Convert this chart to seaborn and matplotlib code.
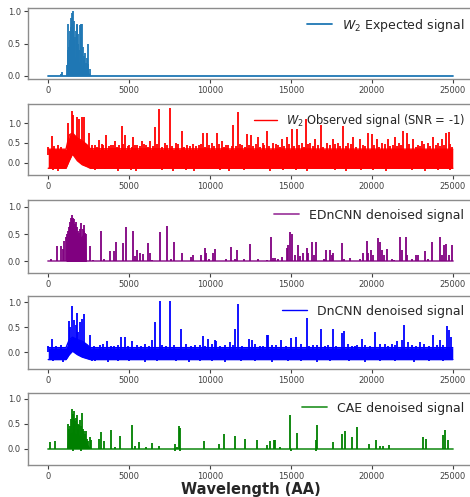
import numpy as np
import pandas as pd
import matplotlib
matplotlib.use("Agg")
import matplotlib.pyplot as plt
import seaborn as sns

# ---------------- data ----------------
X_END = 25000

# Panel 1: W2 expected signal
exp_body_x = [1100, 1200, 1300, 1450, 1600, 1800, 2000, 2200, 2400, 2550, 2650]
exp_body_y = [0.0, 0.22, 0.34, 0.33, 0.30, 0.24, 0.18, 0.13, 0.08, 0.03, 0.0]
exp_spk_x = [800, 865, 1175, 1210, 1236, 1280, 1320, 1350, 1385, 1415, 1445, 1475, 1508,
             1540, 1570, 1610, 1650, 1700, 1755, 1800, 1835, 1870, 1900, 1960, 2000,
             2050, 2100, 2140, 2185, 2230, 2270, 2330, 2380, 2430, 2480, 2560]
exp_spk_y = [0.03, 0.06, 0.17, 0.40, 0.80, 0.45, 0.55, 0.70, 0.90, 0.75, 0.98, 0.80, 1.00,
             0.70, 0.85, 0.55, 0.60, 0.70, 0.80, 0.78, 0.65, 0.50, 0.40, 0.78, 0.60,
             0.80, 0.80, 0.45, 0.30, 0.25, 0.35, 0.20, 0.28, 0.18, 0.50, 0.10]

# Panel 2: W2 observed signal (SNR = -1)
obs_band_x = [0, 1100, 1300, 1500, 1800, 2100, 2400, 2600, 25000]
obs_band_lo = [-0.14, -0.14, 0.05, 0.22, 0.05, -0.05, -0.10, -0.14, -0.14]
obs_band_hi = [0.34, 0.34, 0.70, 0.75, 0.62, 0.55, 0.45, 0.35, 0.34]
obs_spk_x = [0, 210, 620, 1250, 1450, 1550, 1750, 1900, 2100, 2200, 2535, 2900, 3160,
             3400, 3600, 3850, 4120, 4350, 4535, 4740, 5000, 5260, 5500, 5770, 6050,
             6280, 6595, 6860, 7200, 7520, 7900, 8240, 8600, 8960, 9300, 9580, 9830,
             10100, 10400, 10710, 11000, 11430, 11700, 12000, 12260, 12500, 12970,
             13250, 13490, 13900, 14200, 14420, 14770, 15040, 15350, 15700, 15960,
             16200, 16480, 16830, 17200, 17620, 17900, 18230, 18550, 18850, 19260,
             19780, 19990, 20300, 20650, 21020, 21440, 21700, 21950, 22160, 22570,
             22850, 23080, 23450, 23800, 24100, 24320, 24590, 24740, 24950]
obs_spk_y = [0.40, 0.67, 0.45, 1.00, 1.30, 1.20, 1.15, 1.10, 1.15, 1.15, 0.75, 0.45, 0.58,
             0.45, 0.70, 0.45, 0.55, 0.45, 0.92, 0.70, 0.45, 0.65, 0.45, 0.55, 0.45,
             0.55, 0.90, 1.35, 0.50, 1.37, 0.50, 0.80, 0.45, 0.48, 0.45, 0.75, 0.75,
             0.50, 0.75, 0.55, 0.45, 0.95, 1.28, 0.45, 0.72, 0.70, 0.65,
             0.50, 0.80, 0.50, 0.45, 0.60, 0.65, 0.85, 0.85, 0.50, 1.10,
             0.50, 0.60, 0.95, 0.50, 0.60, 0.50, 0.92, 0.50, 0.65, 0.60,
             0.75, 0.72, 0.60, 0.50, 0.60, 0.65, 0.50, 0.80, 0.75, 0.60,
             0.45, 0.55, 0.50, 0.65, 0.50, 0.60, 0.75, 0.78, 0.40]
obs_minor_x = [350, 800, 2700, 3000, 3300, 3750, 4000, 4250, 4650, 4900, 5150, 5380, 5650,
               5900, 6150, 6450, 6750, 7050, 7350, 7650, 8050, 8400, 8750, 9150, 9450,
               9700, 9950, 10250, 10550, 10850, 11100, 11350, 11600, 11850, 12150, 12380,
               12650, 12850, 13100, 13350, 13650, 14050, 14300, 14600, 14900, 15200,
               15500, 15800, 16050, 16350, 16650, 17000, 17400, 17750, 18050, 18400,
               18700, 19050, 19450, 19600, 20150, 20450, 20800, 21150, 21300, 21550,
               21800, 22300, 22700, 22950, 23250, 23600, 23950, 24200, 24450, 24850]
obs_minor_y = [0.42, 0.40, 0.44, 0.40, 0.46, 0.41, 0.44, 0.39, 0.47, 0.42, 0.40, 0.45, 0.41,
               0.48, 0.40, 0.43, 0.46, 0.40, 0.44, 0.42, 0.47, 0.40, 0.43, 0.41, 0.46,
               0.40, 0.44, 0.42, 0.48, 0.40, 0.45, 0.41, 0.43, 0.47, 0.40, 0.44,
               0.42, 0.46, 0.40, 0.45, 0.41, 0.48, 0.40, 0.43, 0.46, 0.41,
               0.44, 0.40, 0.47, 0.42, 0.45, 0.40, 0.44, 0.46, 0.41, 0.43,
               0.48, 0.40, 0.45, 0.42, 0.44, 0.40, 0.47, 0.42, 0.45, 0.41,
               0.44, 0.46, 0.40, 0.43, 0.47, 0.41, 0.45, 0.42, 0.44, 0.46]
obs_dip_x = [300, 600, 2900, 3500, 4300, 5100, 5400, 6300, 7000, 7700, 8500, 9000, 9900,
             10600, 11200, 12100, 12900, 13700, 14500, 15300, 16000, 16900, 17700, 18400,
             19300, 20100, 20900, 21700, 22500, 23300, 24100, 24800]
obs_dip_y = [-0.18, -0.20, -0.19, -0.17, -0.20, -0.18, -0.20, -0.17, -0.19, -0.20, -0.18,
             -0.20, -0.17, -0.19, -0.20, -0.18, -0.17, -0.20, -0.19, -0.18, -0.20, -0.17,
             -0.19, -0.20, -0.18, -0.19, -0.20, -0.17, -0.19, -0.20, -0.18, -0.19]

# Panel 3: EDnCNN denoised signal
edn_body_x = [1100, 1150, 1300, 1450, 1600, 1800, 2000, 2150, 2300, 2360]
edn_body_y = [0.0, 0.30, 0.52, 0.62, 0.58, 0.48, 0.45, 0.50, 0.48, 0.0]
edn_spk_x = [148, 538, 806, 890, 970, 1120, 1150, 1200, 1260, 1320, 1370, 1420, 1480,
             1530, 1600, 1660, 1730, 1790, 1850, 1910, 1970, 2050, 2120, 2180, 2230,
             2290, 2330, 2555, 2760, 3235, 3440, 3810, 4040, 4160, 4620, 4780,
             5230, 5350, 5500, 5700, 5830, 6160, 6260, 6420, 6920, 7350, 7600, 7770,
             8290, 8840, 8940, 9420, 9660, 9770, 9930, 10180, 10280, 11000, 11270,
             11520, 11680, 12100, 12465, 12980, 13500, 13760, 13890, 14020, 14230,
             14420, 14730, 14830, 14960, 15040, 15220, 15450, 15550, 15760, 15970,
             16070, 16280, 16420, 16540, 17030, 17160, 17410, 17510, 17600, 18130,
             18290, 18640, 19260, 19470, 19680, 19780, 19950, 20100, 20400, 20500,
             20640, 20770, 20910, 21220, 21380, 21730, 21840, 22090, 22190, 22460,
             22700, 22830, 23280, 23440, 23690, 24210, 24350, 24480, 24610, 24760, 24930]
edn_spk_y = [0.05, 0.29, 0.28, 0.23, 0.37, 0.45, 0.50, 0.55, 0.62, 0.65, 0.72, 0.80, 0.85,
             0.80, 0.78, 0.68, 0.72, 0.62, 0.55, 0.52, 0.60, 0.70, 0.60, 0.66, 0.55,
             0.52, 0.50, 0.28, 0.03, 0.55, 0.04, 0.19, 0.19, 0.35, 0.33, 0.63,
             0.56, 0.10, 0.20, 0.15, 0.13, 0.33, 0.15, 0.03, 0.54, 0.64, 0.05, 0.36,
             0.15, 0.08, 0.12, 0.12, 0.25, 0.15, 0.05, 0.15, 0.22, 0.04, 0.26,
             0.05, 0.20, 0.05, 0.31, 0.05, 0.03, 0.44, 0.07, 0.06, 0.05,
             0.08, 0.25, 0.30, 0.54, 0.50, 0.12, 0.30, 0.10, 0.15, 0.25,
             0.15, 0.36, 0.12, 0.35, 0.05, 0.20, 0.20, 0.12, 0.15, 0.33,
             0.05, 0.06, 0.05, 0.15, 0.38, 0.15, 0.20, 0.12, 0.42, 0.35,
             0.20, 0.12, 0.22, 0.05, 0.03, 0.45, 0.20, 0.44, 0.12, 0.05,
             0.12, 0.12, 0.19, 0.05, 0.36, 0.45, 0.12, 0.30, 0.32, 0.12, 0.30]

# Panel 4: DnCNN denoised signal
dn_band_x = [0, 1100, 1300, 1500, 1800, 2100, 2400, 2600, 25000]
dn_band_lo = [-0.15, -0.15, -0.05, 0.02, -0.05, -0.10, -0.13, -0.15, -0.15]
dn_band_hi = [0.09, 0.09, 0.25, 0.30, 0.25, 0.22, 0.15, 0.09, 0.09]
dn_spk_x = [0, 230, 1260, 1350, 1485, 1600, 1700, 1775, 1870, 1975, 2080, 2185, 2555,
            3190, 3610, 4080, 4510, 4720, 5200, 5730, 6410, 6620, 6880, 7500, 8220,
            9100, 9560, 9870, 10280, 10380, 11210, 11560, 11720, 12400, 12600, 13070,
            13500, 13600, 14400, 15000, 15300, 15970, 16380, 16860, 17100, 17610,
            18130, 18270, 18950, 19370, 20190, 20810, 21220, 21530, 21840, 22000,
            22250, 22970, 23800, 24210, 24620, 24760, 24880]
dn_spk_y = [0.12, 0.26, 0.63, 0.50, 0.92, 0.65, 0.55, 0.78, 0.40, 0.60, 0.66, 0.76, 0.35,
            0.15, 0.22, 0.12, 0.30, 0.30, 0.22, 0.12, 0.25, 0.60, 1.02, 1.03, 0.46,
            0.15, 0.33, 0.27, 0.25, 0.22, 0.20, 0.46, 0.97, 0.27, 0.25, 0.12,
            0.35, 0.35, 0.25, 0.28, 0.30, 0.68, 0.15, 0.47, 0.12, 0.46,
            0.38, 0.42, 0.12, 0.27, 0.40, 0.17, 0.17, 0.22, 0.25, 0.55,
            0.20, 0.20, 0.35, 0.25, 0.52, 0.45, 0.30]
dn_minor_x = [500, 800, 2800, 3400, 3900, 4300, 4900, 5500, 6000, 6200, 7000, 7300, 7800,
              8500, 8800, 9350, 9700, 10100, 10600, 10900, 11400, 12000, 12800, 13300,
              13800, 14100, 14700, 15600, 16100, 16600, 17300, 17800, 18500, 18800,
              19100, 19600, 19900, 20500, 21000, 21400, 22500, 22700, 23200, 23500,
              24000, 24400]
dn_minor_y = [0.13, 0.15, 0.12, 0.16, 0.13, 0.15, 0.12, 0.14, 0.16, 0.13, 0.15, 0.12, 0.14,
              0.16, 0.12, 0.15, 0.13, 0.16, 0.12, 0.14, 0.15, 0.13, 0.16, 0.12,
              0.14, 0.15, 0.13, 0.16, 0.12, 0.14, 0.15, 0.13, 0.16, 0.12,
              0.14, 0.15, 0.13, 0.16, 0.12, 0.14, 0.15, 0.13, 0.16, 0.12,
              0.14, 0.15]
dn_dip_x = [300, 900, 2700, 2900, 3700, 4300, 5000, 6000, 6700, 7900, 8700, 9400, 10100,
            10900, 11900, 12800, 13800, 14800, 15600, 16600, 17400, 18600, 19600, 20500,
            21400, 22600, 23500, 24400]
dn_dip_y = [-0.17, -0.19, -0.18, -0.17, -0.19, -0.18, -0.17, -0.19, -0.18, -0.17, -0.19,
            -0.18, -0.17, -0.19, -0.18, -0.17, -0.19, -0.18, -0.17, -0.19, -0.18, -0.17,
            -0.19, -0.18, -0.17, -0.19, -0.18, -0.17]

# Panel 5: CAE denoised signal
cae_body_x = [1150, 1200, 1300, 1500, 1700, 2000, 2200, 2400, 2600]
cae_body_y = [0.0, 0.28, 0.30, 0.33, 0.30, 0.25, 0.20, 0.10, 0.0]
cae_spk_x = [85, 395, 1240, 1290, 1340, 1400, 1465, 1520, 1570, 1620, 1670, 1720, 1775,
             1820, 1870, 1920, 1980, 2040, 2100, 2150, 2200, 2250, 2310, 2380, 2450,
             2580, 2660, 3110, 3240, 3440, 3875, 4140, 4430, 5190, 5340, 5590,
             6050, 6430, 6830, 7810, 7930, 8060, 8140, 9600, 10550, 10860, 11520,
             12180, 12920, 13500, 13720, 13970, 14040, 14310, 14960, 15370, 16530,
             16620, 17600, 18130, 18340, 18790, 19100, 19830, 20240, 20490, 20700,
             21070, 23140, 23340, 24410, 24520, 24720]
cae_spk_y = [0.13, 0.15, 0.50, 0.40, 0.45, 0.60, 0.79, 0.70, 0.75, 0.60, 0.55, 0.62, 0.67,
             0.50, 0.40, 0.48, 0.58, 0.45, 0.71, 0.40, 0.35, 0.30, 0.35, 0.20, 0.15,
             0.23, 0.18, 0.20, 0.33, 0.15, 0.37, 0.04, 0.26, 0.47, 0.05, 0.13,
             0.03, 0.11, 0.05, 0.10, 0.04, 0.45, 0.42, 0.15, 0.10, 0.29, 0.26,
             0.20, 0.18, 0.08, 0.15, 0.17, 0.17, 0.04, 0.67, 0.32, 0.18,
             0.47, 0.13, 0.29, 0.35, 0.23, 0.43, 0.10, 0.17, 0.05, 0.05,
             0.08, 0.23, 0.20, 0.27, 0.37, 0.17]
cae_dip_x = [1500, 2000, 7850, 8150, 15000, 16550]
cae_dip_y = [-0.05, -0.05, -0.05, -0.05, -0.04, -0.05]

labels = [r"$W_2$ Expected signal", r"$W_2$ Observed signal (SNR = -1)",
          "EDnCNN denoised signal", "DnCNN denoised signal", "CAE denoised signal"]
colors = ["#1f77b4", "red", "purple", "blue", "green"]
ylims = [(-0.05, 1.05), (-0.31, 1.48), (-0.21, 1.12), (-0.34, 1.13), (-0.33, 1.11)]
legend_sizes = [9, 8.3, 9, 9, 9]

# ---------------- figure ----------------
sns.set_style("ticks", {"axes.edgecolor": "0.55", "xtick.color": "0.25", "ytick.color": "0.25"})
plt.rcParams["font.family"] = ["DejaVu Sans"]

fig = plt.figure(figsize=(4.70, 4.97), dpi=100)
tops = [8, 104, 200, 296, 393]
bots = [79, 175, 273, 369, 465]
axes = []
for t, b in zip(tops, bots):
    axes.append(fig.add_axes([28 / 470, 1 - b / 497, 445 / 470, (b - t) / 497]))

def baseline(ax, color, label, alpha=1.0):
    df = pd.DataFrame({"x": [0, X_END], "y": [0.0, 0.0]})
    sns.lineplot(data=df, x="x", y="y", ax=ax, color=color, lw=1.3, label=label, alpha=alpha)

def band(ax, bx, lo, hi, color, label, alpha=1.0):
    df = pd.DataFrame({"x": bx, "lo": lo, "hi": hi})
    ax.fill_between(df["x"], df["lo"], df["hi"], color=color, lw=0, alpha=alpha)
    sns.lineplot(data=df, x="x", y="hi", ax=ax, color=color, lw=1.0, label=label, alpha=alpha)
    sns.lineplot(data=df, x="x", y="lo", ax=ax, color=color, lw=1.0, alpha=alpha)

SPK_LW = 1.3

# Panel 1
ax = axes[0]
baseline(ax, colors[0], labels[0])
ax.fill_between(exp_body_x, 0, exp_body_y, color=colors[0], lw=0)
ax.vlines(exp_spk_x, 0, exp_spk_y, color=colors[0], lw=SPK_LW)

# Panel 2
ax = axes[1]
band(ax, obs_band_x, obs_band_lo, obs_band_hi, colors[1], labels[1])
ax.vlines(obs_spk_x, 0.2, obs_spk_y, color=colors[1], lw=SPK_LW)
ax.vlines(obs_minor_x, 0.2, obs_minor_y, color=colors[1], lw=SPK_LW)
ax.vlines(obs_dip_x, 0.0, obs_dip_y, color=colors[1], lw=SPK_LW)

# Panel 3
ax = axes[2]
baseline(ax, colors[2], labels[2], alpha=0.75)
ax.fill_between(edn_body_x, 0, edn_body_y, color=colors[2], lw=0)
ax.vlines(edn_spk_x, 0, edn_spk_y, color=colors[2], lw=SPK_LW)

# Panel 4
ax = axes[3]
band(ax, dn_band_x, dn_band_lo, dn_band_hi, colors[3], labels[3])
ax.vlines(dn_spk_x, 0.0, dn_spk_y, color=colors[3], lw=SPK_LW)
ax.vlines(dn_minor_x, 0.0, dn_minor_y, color=colors[3], lw=SPK_LW)
ax.vlines(dn_dip_x, 0.0, dn_dip_y, color=colors[3], lw=SPK_LW)

# Panel 5
ax = axes[4]
baseline(ax, colors[4], labels[4], alpha=0.8)
ax.fill_between(cae_body_x, 0, cae_body_y, color=colors[4], lw=0)
ax.vlines(cae_spk_x, 0, cae_spk_y, color=colors[4], lw=SPK_LW)
ax.vlines(cae_dip_x, 0, cae_dip_y, color=colors[4], lw=SPK_LW)

for i, ax in enumerate(axes):
    ax.set_xlim(-1250, 26250)
    ax.set_ylim(*ylims[i])
    ax.set_xticks([0, 5000, 10000, 15000, 20000, 25000])
    ax.set_yticks([0.0, 0.5, 1.0])
    ax.set_yticklabels(["0.0", "0.5", "1.0"])
    ax.tick_params(labelsize=6, length=3, width=0.8, pad=2)
    ax.set_xlabel("")
    ax.set_ylabel("")
    for s in ax.spines.values():
        s.set_visible(True)
        s.set_linewidth(1.0)
    ax.legend(loc="upper right", frameon=False, fontsize=legend_sizes[i], handlelength=2.0,
              borderaxespad=0.3, handletextpad=0.8)

axes[-1].set_xlabel("Wavelength (AA)", fontsize=10.5, fontweight="bold", labelpad=1)

fig.savefig("out.png", dpi=100)
